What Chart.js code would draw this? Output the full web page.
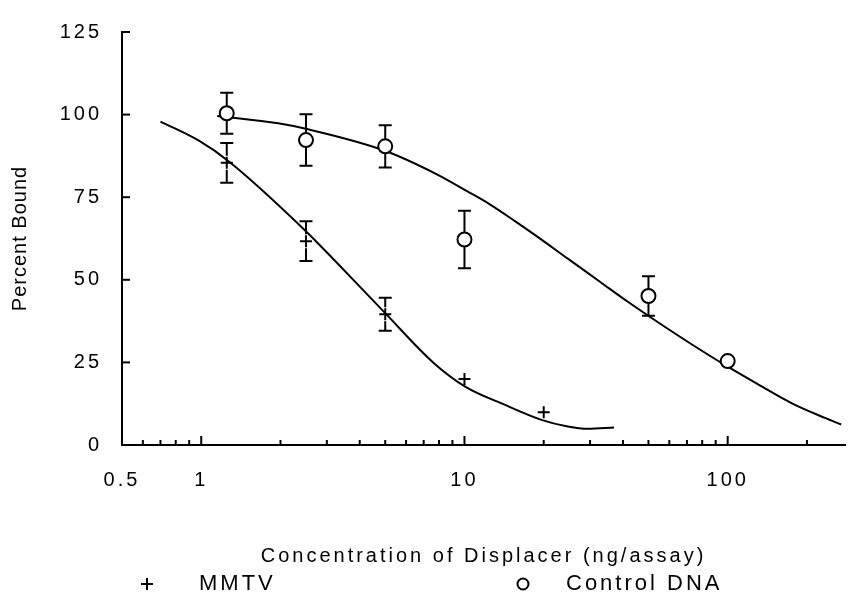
<!DOCTYPE html>
<html><head><meta charset="utf-8">
<script src="https://cdn.jsdelivr.net/npm/chart.js@4/dist/chart.umd.min.js"></script>
<style>html,body{margin:0;padding:0;background:#fff}#wrap{width:854px;height:599px;position:relative}</style>
</head><body><div id="wrap"><canvas id="c"></canvas></div>
<script>
// ---- data ----
const mmtvX = [1.25, 2.5, 5, 10, 20];
const mmtvY = [85.4, 61.7, 39.6, 20.0, 9.9];
const mmtvErr = [6, 6, 5, 0, 0];
const ctrlX = [1.25, 2.5, 5, 10, 50, 100];
const ctrlY = [100.4, 92.3, 90.4, 62.2, 45.1, 25.4];
const ctrlErr = [6.2, 7.8, 6.4, 8.7, 6, 0];
const mmtvCurveX = [0.70, 0.98, 1.27, 2.47, 3.29, 3.92, 5.04, 7.6, 10.1, 13.9, 19.6, 24.7, 29.4, 37.0];
const mmtvCurveY = [97.9, 92.1, 85.9, 65.1, 55.0, 48.7, 39.6, 25.0, 17.6, 12.5, 7.6, 5.6, 4.9, 5.3];
const ctrlCurveX = [1.15, 1.96, 2.47, 4.93, 7.82, 10.3, 12.4, 15.6, 18.5, 24.7, 33.0, 41.5, 55.4, 73.9, 98.6, 131.5, 175.4, 233.9, 270];
const ctrlCurveY = [99.6, 97.4, 95.8, 89.2, 82.0, 76.7, 73.0, 67.7, 63.6, 56.4, 49.2, 43.5, 36.7, 30.2, 24.0, 18.2, 12.6, 8.2, 6.2];
const xTicks = [0.5,0.6,0.7,0.8,0.9,1,2,3,4,5,6,7,8,9,10,20,30,40,50,60,70,80,90,100,200];
const xTickLabels = {'0.5':'0.5','1':'1','10':'10','100':'100'};
const xMajor = [1, 10, 100];
const yTicks = [0, 25, 50, 75, 100, 125];
const seriesNames = ['MMTV', 'Control DNA'];
const xTitle = 'Concentration of Displacer (ng/assay)';
const yTitle = 'Percent Bound';

const FAM = "'Liberation Sans', Arial, Helvetica, sans-serif";
const LS = '3px';
const pts = (xs, ys) => xs.map((x, i) => ({x, y: ys[i]}));

const spacingPlugin = {
  id: 'spacing',
  beforeLayout(chart) { chart.ctx.letterSpacing = LS; },
  afterLayout(chart) {
    const s = chart.scales.y;
    if (s && !s._lsPatched) {
      const orig = s.drawTitle;
      s.drawTitle = function () {
        const c = this.ctx; const prev = c.letterSpacing;
        c.letterSpacing = '1px'; orig.call(this); c.letterSpacing = prev;
      };
      s._lsPatched = true;
    }
  },
  beforeDraw(chart) { chart.ctx.letterSpacing = LS; }
};

const tickPlugin = {
  id: 'inTicks',
  afterDraw(chart) {
    const {ctx, scales: {x, y}, chartArea} = chart;
    ctx.save();
    ctx.strokeStyle = '#000'; ctx.lineWidth = 2;
    xTicks.forEach(v => {
      if (v === xTicks[0]) return;
      const px = x.getPixelForValue(v);
      const len = xMajor.includes(v) ? 9 : 5;
      ctx.beginPath(); ctx.moveTo(px, chartArea.bottom); ctx.lineTo(px, chartArea.bottom - len); ctx.stroke();
    });
    yTicks.forEach(v => {
      if (v === 0) return;
      const py = y.getPixelForValue(v);
      ctx.beginPath(); ctx.moveTo(chartArea.left, py); ctx.lineTo(chartArea.left + 8, py); ctx.stroke();
    });
    ctx.restore();
  }
};

const errPlugin = {
  id: 'errBars',
  afterDatasetsDraw(chart) {
    const {ctx, scales: {x, y}} = chart;
    ctx.save();
    ctx.strokeStyle = '#000'; ctx.lineWidth = 2;
    const draw = (xs, ys, es, gap) => {
      xs.forEach((xv, i) => {
        const e = es[i]; if (!e) return;
        const px = x.getPixelForValue(xv);
        const cy = y.getPixelForValue(ys[i]);
        const top = y.getPixelForValue(ys[i] + e);
        const bot = y.getPixelForValue(ys[i] - e);
        ctx.beginPath();
        ctx.moveTo(px, top); ctx.lineTo(px, cy - gap);
        ctx.moveTo(px, cy + gap); ctx.lineTo(px, bot);
        ctx.moveTo(px - 6.5, top); ctx.lineTo(px + 6.5, top);
        ctx.moveTo(px - 6.5, bot); ctx.lineTo(px + 6.5, bot);
        ctx.stroke();
      });
    };
    draw(mmtvX, mmtvY, mmtvErr, 7);
    draw(ctrlX, ctrlY, ctrlErr, 7);
    ctx.restore();
  }
};

const legendPlugin = {
  id: 'bottomLegend',
  afterDraw(chart) {
    const ctx = chart.ctx;
    const items = chart.data.datasets.filter(d => d.isMarker);
    const pos = [{mx: 147, tx: 199}, {mx: 523, tx: 566}];
    const cy = 584;
    ctx.save();
    ctx.letterSpacing = LS;
    ctx.strokeStyle = '#000'; ctx.fillStyle = '#000'; ctx.lineWidth = 2;
    items.forEach((d, i) => {
      const p = pos[i];
      ctx.beginPath();
      if (d.pointStyle === 'cross') {
        ctx.moveTo(p.mx - 6, cy); ctx.lineTo(p.mx + 6, cy);
        ctx.moveTo(p.mx, cy - 6); ctx.lineTo(p.mx, cy + 6);
      } else {
        ctx.arc(p.mx, cy, 5.5, 0, Math.PI * 2);
      }
      ctx.stroke();
      ctx.font = '22px ' + FAM;
      ctx.textAlign = 'left'; ctx.textBaseline = 'middle';
      ctx.fillText(d.label, p.tx, cy);
    });
    ctx.restore();
  }
};

Chart.defaults.color = '#000';
Chart.defaults.font.family = FAM;
Chart.defaults.font.size = 20;

new Chart(document.getElementById('c'), {
  type: 'scatter',
  data: {
    datasets: [
      {label: seriesNames[0], isMarker: true, data: pts(mmtvX, mmtvY), pointStyle: 'cross', pointRadius: 6, pointBorderWidth: 2, borderColor: '#000', backgroundColor: '#000', order: 0},
      {label: seriesNames[1], isMarker: true, data: pts(ctrlX, ctrlY), pointStyle: 'circle', pointRadius: 7, pointBorderWidth: 2, borderColor: '#000', backgroundColor: '#fff', order: 0},
      {label: seriesNames[0] + ' fit', data: pts(mmtvCurveX, mmtvCurveY), showLine: true, pointRadius: 0, borderWidth: 2, borderColor: '#000', cubicInterpolationMode: 'monotone', order: 1},
      {label: seriesNames[1] + ' fit', data: pts(ctrlCurveX, ctrlCurveY), showLine: true, pointRadius: 0, borderWidth: 2, borderColor: '#000', cubicInterpolationMode: 'monotone', order: 1}
    ]
  },
  options: {
    responsive: true,
    maintainAspectRatio: false,
    animation: false,
    layout: {padding: {top: 13, right: 0, bottom: 0, left: 0}},
    plugins: {legend: {display: false}, tooltip: {enabled: false}},
    scales: {
      x: {
        type: 'logarithmic', min: 0.5, max: 279, bounds: 'data',
        afterBuildTicks(s) { s.ticks = xTicks.map(v => ({value: v})); },
        afterFit(s) { s.height = 154; },
        grid: {display: false, drawTicks: false},
        border: {display: true, color: '#000', width: 2},
        ticks: {autoSkip: false, maxRotation: 0, minRotation: 0, padding: 23, color: '#000',
          callback: (v) => xTickLabels[String(v)] ?? ''},
        title: {display: true, text: xTitle, color: '#000', font: {size: 20}, padding: {top: 0, bottom: 31}}
      },
      y: {
        min: 0, max: 125,
        afterBuildTicks(s) { s.ticks = yTicks.map(v => ({value: v})); },
        afterFit(s) { s.width = 122; },
        grid: {display: false, drawTicks: false},
        border: {display: true, color: '#000', width: 2},
        ticks: {padding: 20, color: '#000'},
        title: {display: true, text: yTitle, color: '#000', font: {size: 20}, padding: {top: 8, bottom: 0}}
      }
    }
  },
  plugins: [spacingPlugin, tickPlugin, errPlugin, legendPlugin]
});
</script>
</body></html>
